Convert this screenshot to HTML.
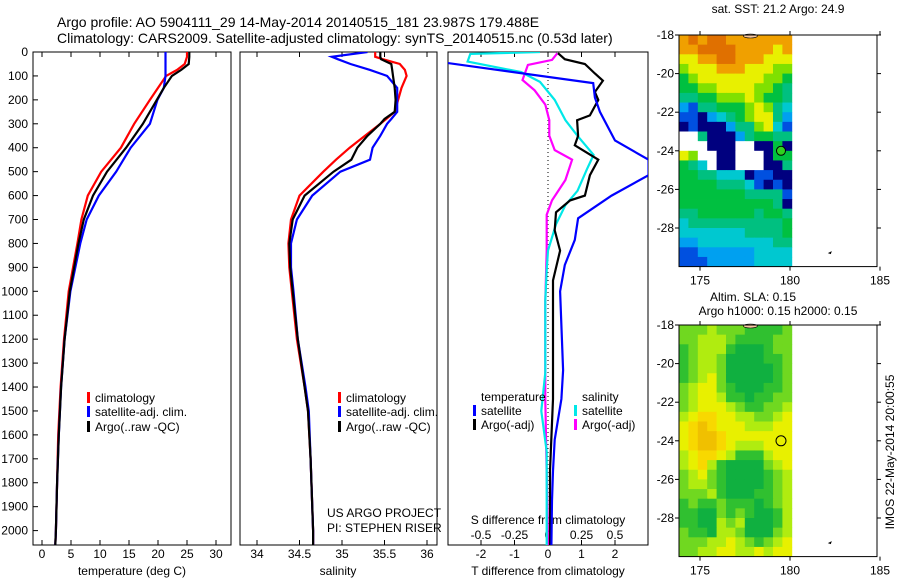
<!DOCTYPE html>
<html><head><meta charset="utf-8"><style>
body{margin:0;background:#fff}
svg{display:block;font-family:"Liberation Sans",sans-serif}
text{font-size:12px;fill:#000}
</style></head><body>
<svg id="fig" width="900" height="580" viewBox="0 0 900 580" xmlns="http://www.w3.org/2000/svg">
<defs>
<clipPath id="c1"><rect x="33" y="52" width="198" height="493"/></clipPath>
<clipPath id="c2"><rect x="240" y="52" width="197" height="493"/></clipPath>
<clipPath id="c3"><rect x="448" y="52" width="200" height="493"/></clipPath>
</defs>
<text x="57" y="27" style="font-size:14px">Argo profile: AO 5904111_29 14-May-2014 20140515_181 23.987S 179.488E</text>
<text x="57" y="43" style="font-size:14px">Climatology: CARS2009. Satellite-adjusted climatology: synTS_20140515.nc (0.53d later)</text>
<g id="g1"></g>
<g id="g2"></g>
<g id="g3"></g>
<g id="m1"></g>
<g id="m2"></g>
<text transform="translate(894,452) rotate(-90)" text-anchor="middle">IMOS 22-May-2014 20:00:55</text>
</svg>
<script>
// ---- data ----
const depthT=[0,20,50,75,100,150,200,300,400,500,600,700,800,1000,1200,1400,1600,1800,2000,2060];
const tClim=[25.0,25.0,24.6,23.3,21.4,20.0,18.6,15.9,13.6,10.2,7.9,6.8,6.1,4.6,3.8,3.2,2.8,2.6,2.4,2.3];
const tSat=[21.3,21.3,21.3,21.3,21.3,21.0,19.9,18.6,15.3,12.8,9.8,7.7,6.6,4.9,3.9,3.3,2.9,2.6,2.4,2.3];
const tArgo=[25.4,25.4,25.3,24.0,22.4,21.0,19.8,17.4,14.5,11.2,8.8,7.2,6.3,4.8,3.9,3.3,2.9,2.6,2.4,2.3];
const depthS=[0,20,30,50,75,100,150,200,250,280,300,350,400,450,500,600,700,800,900,1000,1200,1400,1500,1700,2000,2060];
const sClim=[35.39,35.39,35.48,35.68,35.74,35.76,35.70,35.66,35.62,35.52,35.45,35.27,35.09,34.93,34.78,34.50,34.40,34.37,34.38,34.41,34.47,34.56,34.60,34.63,34.66,34.66];
const sSat=[35.30,34.88,34.95,35.10,35.33,35.53,35.65,35.65,35.65,35.58,35.53,35.45,35.36,35.33,34.98,34.65,34.47,34.40,34.40,34.43,34.48,34.57,34.61,34.63,34.66,34.66];
const sArgo=[35.45,35.45,35.46,35.58,35.59,35.60,35.62,35.63,35.62,35.50,35.45,35.30,35.18,35.11,34.90,34.56,34.42,34.38,34.39,34.42,34.48,34.56,34.60,34.63,34.66,34.66];
const dTSatDepth=[46,130,190,250,370,450,515,600,695,785,890,1000,1330,1450,1620,1750,1875,2060];
const dTSat=[-3,1.35,1.4,1.55,2.0,3.0,3.0,1.9,0.9,0.8,0.5,0.36,0.45,0.4,0.2,0.15,0.12,0.1];
const dTArgoDepth=[5,30,50,90,120,167,200,265,285,350,390,450,515,600,620,670,745,830,955,1450,1750,2060];
const dTArgo=[0.3,0.5,1.1,1.4,1.64,1.4,1.5,1.25,0.87,0.9,0.8,1.5,1.25,1.1,0.66,0.24,0.2,0.36,0.15,0.15,0.06,0.06];
const dSSatDepth=[0,8,40,84,125,200,285,350,430,490,580,640,720,830,910,1040,1340,1500,1670,2060];
const dSSat=[-0.06,-0.58,-0.6,-0.2,-0.06,0.05,0.13,0.22,0.34,0.29,0.22,0.13,0.06,0,-0.01,-0.02,-0.02,-0.05,-0.01,-0.01];
const dSArgoDepth=[5,33,54,117,160,220,285,350,410,450,535,620,680,830,1040,1450,2060];
const dSArgo=[0.07,0.03,-0.15,-0.19,-0.1,-0.02,0.01,0.01,0.05,0.18,0.13,0.03,-0.01,-0.01,-0.02,-0.02,0.0];
const depthTicks=[0,100,200,300,400,500,600,700,800,900,1000,1100,1200,1300,1400,1500,1600,1700,1800,1900,2000];
const tTicks=[0,5,10,15,20,25,30];
const sTicks=[34,34.5,35,35.5,36];
const dtTicks=[-2,-1,0,1,2];
const dsTicks=[-0.5,-0.25,0,0.25,0.5];
const dsTickLabels=["-0.5","-0.25","0","0.25","0.5"];
const latTicks=[18,20,22,24,26,28];
const lonTicks=[175,180,185];
const sstRows=["9a9aa9999999","99aaaa999989","8899aa999888","788899988877","678888888776","667788887765","556677787665","325566678754","221345678853","121113557842","005111356655","000111001161","870011000166","654011000115","665544412211","666655542121","666666655552","666666666651","556666665665","455555555556","444444455556","334444444455","223333334444","222333334444"];
const slaRows=["333433322223","334443222233","234442111233","234431111223","234431111123","234531111123","345532111223","345542212233","345554322334","456655443345","567655544455","567765555555","567765444555","456654222455","456421111345","345321111234","344321111234","333421112234","232232221234","221132321124","221143411124","322144311134","333445432345","334455445455"];
const sstColors={"0":"#ffffff","1":"#00007f","2":"#0050e0","3":"#00a0f0","4":"#00c8d0","5":"#00c080","6":"#00c040","7":"#80e000","8":"#e8f000","9":"#f0a000","a":"#e07000"};
const slaColors={"1":"#10b040","2":"#30c030","3":"#70d820","4":"#b0ec10","5":"#e8f000","6":"#f8d800","7":"#f0c000"};
// ---- scales ----
const yD=d=>52+d*0.2393;
const x1=t=>42+t*5.8;
const x2=s=>257+(s-34)*85;
const xT=t=>548+t*33.5;
const xS=s=>548+s*134;
const NS="http://www.w3.org/2000/svg";
function mk(tag,attrs,parent,txt){const e=document.createElementNS(NS,tag);for(const k in attrs)e.setAttribute(k,attrs[k]);if(txt!==undefined)e.textContent=txt;parent.appendChild(e);return e;}
function line(parent,xs,ds,fx,color,name,clip){
  const pts=xs.map((v,i)=>fx(v).toFixed(1)+","+yD(ds[i]).toFixed(1)).join(" ");
  const e=mk("polyline",{points:pts,fill:"none",stroke:color,"stroke-width":2.2,"clip-path":"url(#"+clip+")"},parent);
  
  
}
function frame(parent,x,y,w,h,name){const e=mk("rect",{x:x,y:y,width:w,height:h,fill:"none",stroke:"#000","stroke-width":1},parent);
  
  }
function txt(parent,x,y,s,anchor,name){const e=mk("text",{x:x,y:y,"text-anchor":anchor||"start"},parent,s);
  
  return e;}
function xticks(parent,vals,fx,top,bot,labels,ly,name){vals.forEach((v,i)=>{const x=fx(v);
  mk("line",{x1:x,y1:top,x2:x,y2:top+5,stroke:"#000"},parent);
  mk("line",{x1:x,y1:bot,x2:x,y2:bot-5,stroke:"#000"},parent);
  if(labels)txt(parent,x,ly,labels[i],"middle",name);});}
function legendEntry(parent,x,y,color,label,name){
  const m=mk("rect",{x:x,y:y-10,width:3,height:11,fill:color},parent);
  
  
  txt(parent,x+8,y,label,"start",name);}
// ---- panel 1 ----
const g1=document.getElementById("g1");
frame(g1,33,52,198,493,"temperature-plot-frame");
depthTicks.forEach(d=>{mk("line",{x1:33,y1:yD(d),x2:38,y2:yD(d),stroke:"#000"},g1);txt(g1,28,yD(d)+4,String(d),"end","depth-tick-label");});
xticks(g1,tTicks,x1,52,545,tTicks.map(String),558,"temperature-tick-label");
txt(g1,132,575,"temperature (deg C)","middle","temperature-axis-title");
line(g1,tClim,depthT,x1,"#ff0000","temperature-climatology-line","c1");
line(g1,tSat,depthT,x1,"#0000ff","temperature-satellite-line","c1");
line(g1,tArgo,depthT,x1,"#000000","temperature-argo-line","c1");
legendEntry(g1,87,402,"#ff0000","climatology","legend-climatology");
legendEntry(g1,87,416,"#0000ff","satellite-adj. clim.","legend-satellite");
legendEntry(g1,87,431,"#000000","Argo(..raw -QC)","legend-argo");
// ---- panel 2 ----
const g2=document.getElementById("g2");
frame(g2,240,52,197,493,"salinity-plot-frame");
xticks(g2,sTicks,x2,52,545,sTicks.map(String),558,"salinity-tick-label");
txt(g2,338,575,"salinity","middle","salinity-axis-title");
line(g2,sClim,depthS,x2,"#ff0000","salinity-climatology-line","c2");
line(g2,sSat,depthS,x2,"#0000ff","salinity-satellite-line","c2");
line(g2,sArgo,depthS,x2,"#000000","salinity-argo-line","c2");
legendEntry(g2,338,402,"#ff0000","climatology","legend-climatology-2");
legendEntry(g2,338,416,"#0000ff","satellite-adj. clim.","legend-satellite-2");
legendEntry(g2,338,431,"#000000","Argo(..raw -QC)","legend-argo-2");
txt(g2,327,517,"US ARGO PROJECT","start","project-credit");
txt(g2,327,532,"PI: STEPHEN RISER","start","pi-credit");
// ---- panel 3 ----
const g3=document.getElementById("g3");
frame(g3,448,52,200,493,"difference-plot-frame");
mk("line",{x1:548,y1:52,x2:548,y2:545,stroke:"#000","stroke-dasharray":"1,3"},g3);
xticks(g3,dtTicks,xT,52,545,dtTicks.map(String),558,"t-difference-tick-label");
dsTicks.forEach((v,i)=>txt(g3,xS(v),539,dsTickLabels[i],"middle","s-difference-tick-label"));
txt(g3,548,524,"S difference from climatology","middle","s-difference-axis-title");
txt(g3,548,575,"T difference from climatology","middle","t-difference-axis-title");
line(g3,dSArgo,dSArgoDepth,xS,"#ff00ff","s-argo-difference-line","c3");
line(g3,dSSat,dSSatDepth,xS,"#00e8e8","s-satellite-difference-line","c3");
line(g3,dTArgo,dTArgoDepth,xT,"#000000","t-argo-difference-line","c3");
line(g3,dTSat,dTSatDepth,xT,"#0000ff","t-satellite-difference-line","c3");
txt(g3,481,401,"temperature","start","legend-temperature-heading");
legendEntry(g3,473,415,"#0000ff","satellite","legend-t-satellite");
legendEntry(g3,473,429,"#000000","Argo(-adj)","legend-t-argo");
txt(g3,582,401,"salinity","start","legend-salinity-heading");
legendEntry(g3,574,415,"#00e8e8","satellite","legend-s-satellite");
legendEntry(g3,574,429,"#ff00ff","Argo(-adj)","legend-s-argo");
// ---- maps ----
function drawMap(gid,top,rows,colors,name){
  const g=document.getElementById(gid);
  const lx=lon=>700+(lon-175)*18, ly=lat=>top+(lat-18)*19.3;
  const x0=679, cw=(lx(180.1)-x0)/12, ch=ly(18.5)-ly(18);
  rows.forEach((r,i)=>{for(let j=0;j<r.length;j++){
    const c=mk("rect",{x:(x0+j*cw).toFixed(2),y:(ly(18)+i*ch).toFixed(2),width:(cw+0.4).toFixed(2),height:(ch+0.4).toFixed(2),fill:colors[r[j]]},g);
    
    }});
  mk("ellipse",{cx:lx(177.8),cy:ly(18)+1,rx:7,ry:2,fill:"#f8c8a0",stroke:"#000","stroke-width":0.6},g);
  mk("path",{d:`M${lx(182.1)} ${ly(29.3)} l4 -2 l-1 3 z`,fill:"#000"},g);
  frame(g,679,top,198,ly(30)-top,name+'-frame');
  latTicks.forEach(l=>{const y=ly(l);mk("line",{x1:877,y1:y,x2:881,y2:y,stroke:"#000"},g);mk("line",{x1:679,y1:y,x2:675,y2:y,stroke:"#000"},g);txt(g,674,y+4,"-"+l,"end",name+'-lat-label');});
  lonTicks.forEach(l=>{const x=lx(l);mk("line",{x1:x,y1:top,x2:x,y2:top-4,stroke:"#000"},g);mk("line",{x1:x,y1:ly(30),x2:x,y2:ly(30)+4,stroke:"#000"},g);txt(g,x,ly(30)+18,String(l),"middle",name+'-lon-label');});
  return {lx,ly,g};
}
const a=drawMap("m1",35,sstRows,sstColors,"sst-map");
const p1=mk("circle",{cx:a.lx(179.5),cy:a.ly(24),r:4.5,fill:"#30d020",stroke:"#000"},a.g);


txt(a.g,778,13,"sat. SST: 21.2 Argo: 24.9","middle","sst-map-title");
const b=drawMap("m2",325,slaRows,slaColors,"sla-map");
const p2=mk("circle",{cx:b.lx(179.5),cy:b.ly(24),r:5,fill:"none",stroke:"#000"},b.g);


txt(b.g,753,301,"Altim. SLA: 0.15","middle","sla-map-title");
txt(b.g,778,315,"Argo h1000: 0.15 h2000: 0.15","middle","sla-map-subtitle");
</script>
</body></html>
